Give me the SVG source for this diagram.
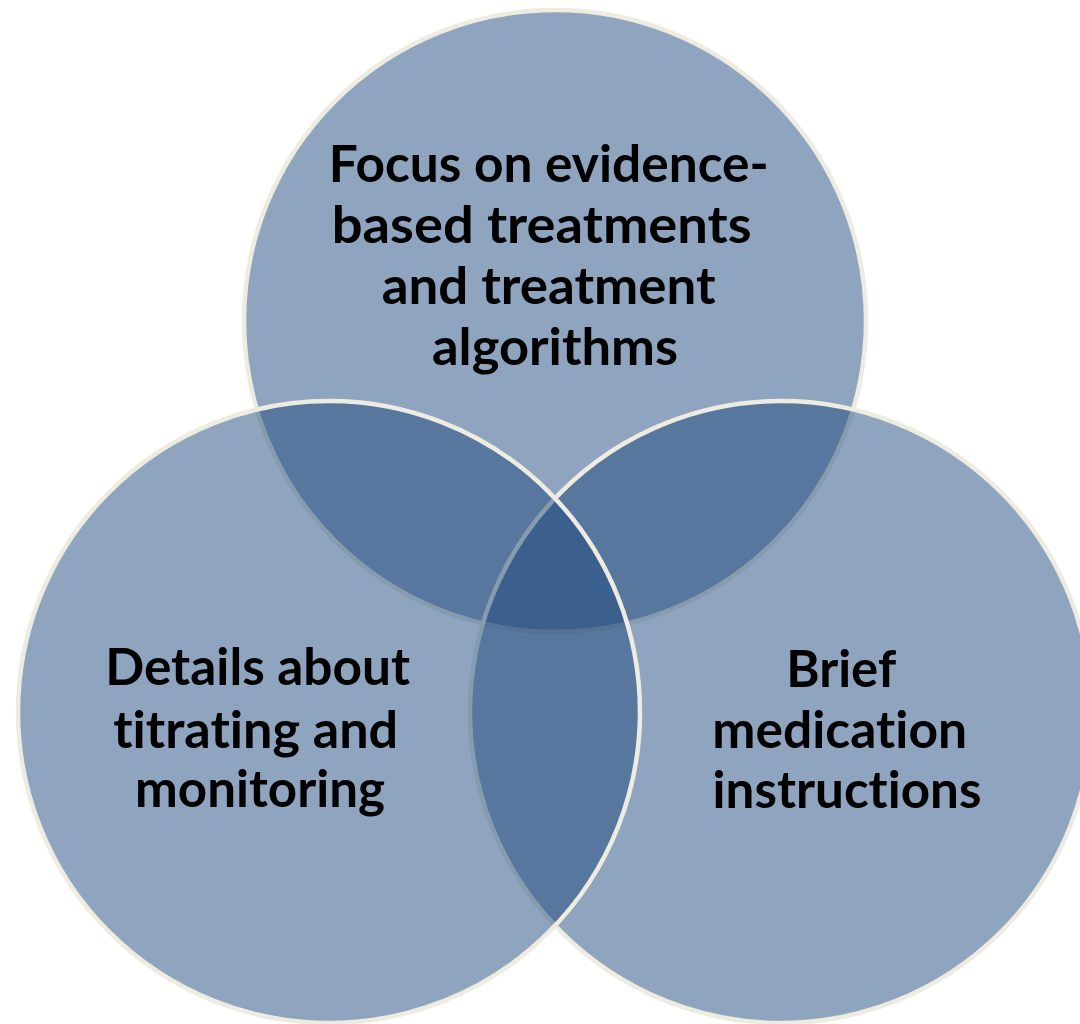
<svg xmlns="http://www.w3.org/2000/svg" width="1080" height="1024" viewBox="0 0 1080 1024">
  <style>
    .ring { fill: #1F497D; fill-opacity: 0.5; stroke: #EEECE1; stroke-width: 4.5; }
    .label { font-family: Lato, "Open Sans", "Liberation Sans", sans-serif; font-weight: 700; font-size: 52px; fill: #000000; text-anchor: middle; font-variant-ligatures: none; font-feature-settings: "liga" 0, "dlig" 0; }
  </style>
  <rect width="1080" height="1024" fill="#ffffff"/>

  <!-- top set -->
  <g id="node-evidence">
    <circle class="ring" cx="555" cy="321" r="311"/>
    <text class="label">
      <tspan x="555" y="182" textLength="440" lengthAdjust="spacingAndGlyphs">Focus on evidence-</tspan>
      <tspan x="548" y="243" textLength="420" lengthAdjust="spacingAndGlyphs">based treatments</tspan>
      <tspan x="555" y="304" textLength="334" lengthAdjust="spacingAndGlyphs">and treatment</tspan>
      <tspan x="555" y="365" textLength="246" lengthAdjust="spacingAndGlyphs">algorithms</tspan>
    </text>
  </g>

  <!-- lower right set -->
  <g id="node-brief">
    <circle class="ring" cx="781" cy="712" r="311"/>
    <text class="label">
      <tspan x="847" y="687" textLength="109" lengthAdjust="spacingAndGlyphs">Brief</tspan>
      <tspan x="846" y="748" textLength="255" lengthAdjust="spacingAndGlyphs">medication</tspan>
      <tspan x="847" y="808" textLength="269" lengthAdjust="spacingAndGlyphs">instructions</tspan>
    </text>
  </g>

  <!-- lower left set -->
  <g id="node-details">
    <circle class="ring" cx="329" cy="712" r="311"/>
    <text class="label">
      <tspan x="264" y="685" textLength="305" lengthAdjust="spacingAndGlyphs">Details about</tspan>
      <tspan x="262" y="748" textLength="285" lengthAdjust="spacingAndGlyphs">titrating and</tspan>
      <tspan x="260" y="807" textLength="250" lengthAdjust="spacingAndGlyphs">monitoring</tspan>
    </text>
  </g>
</svg>
